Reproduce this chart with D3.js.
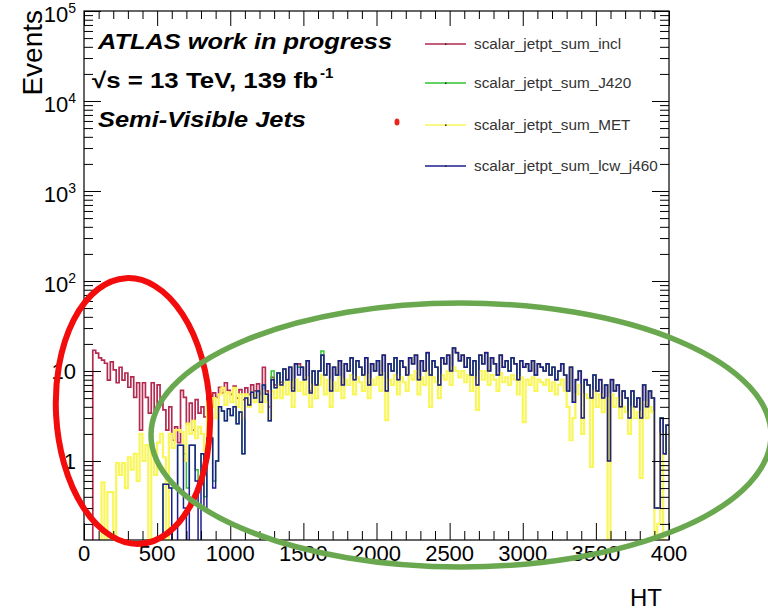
<!DOCTYPE html>
<html>
<head>
<meta charset="utf-8">
<script src="https://cdn.jsdelivr.net/npm/d3@7"></script>
<style>
  body { margin: 0; background: #fff; }
  svg { display: block; }
  text { font-family: "Liberation Sans", Arial, Helvetica, sans-serif; }
</style>
</head>
<body>
<svg id="chart" width="768" height="611"></svg>
<script>
// ---- Histogram binning: HT from 0 to 4000 GeV, 20 GeV bins (200 bins) ----
const binWidth = 20;
const htMin = 0, htMax = 4000;

// ---- Series (events per bin) ----
const inclValues = [
  0,0,0,17,15.8,14,13.2,12.2,7.9,12.6,
  10.3,7.4,11,7.9,9.5,6.6,8.6,5.1,7.4,2.2,
  7.4,5.1,3.4,7.4,3.4,7,4.8,3.7,2.2,4,
  1.7,2.4,1.6,6.1,5.1,2.6,4.4,2.2,4.8,3.4,
  4,3.1,5.1,4,5.7,5.1,6.6,5.7,7.4,6.1,
  5.5,6.8,5.0,6.2,4.8,6.5,5.5,7.0,6.0,7.2,
  5.5,11,6.0,4.0,8.5,7.0,9.5,7.5,10.5,8.0,
  11,6.5,12,12,11,8,13,6.0,10,7,
  10,15,9,12,6,11,9,13,7,12,
  10,14,8,13,11,9,14,7,12,10,
  13,9,15,6,12,10,14,8,13,11,
  9,14,12,15,8,13,10,16,9,13,
  11,7,14,12,15,10,18,16,13,15,
  11,14,9,13,7,15,12,16,10,14,
  12,9,15,11,13,10,14,12,8,13,
  11,12,10,13,9,12,11,10,12,9,
  11,8,10,12,9,6,11,4.5,8,10,
  3,8,7,5,9,6,8,5,7,1.0,
  8,6,7,4,6,5,3,6,4,5,
  3,7,4,6,5,0.3,0.3,3,1.2,2.5
];

const j420Values = [
  0,0,0,0,0,0,0,0,0,0,
  0,0,0,0,0,0,0,0,0,0,
  0,0,0,0,0,0,0,0.55,0.55,0.5,
  0.5,0.5,1.5,1.5,1.2,0.5,1.5,1.5,0.8,0.5,
  1.2,0.4,1.8,1.8,0.6,1.0,4.0,3.6,2.8,3.8,
  3.2,4.0,2.6,3.5,1.2,5.0,4.2,5.8,5.0,6.0,
  4.5,7.0,5.5,2.8,10,6.5,9.5,7.0,10.5,8.0,
  11,6.0,12,11,11,8,13,5.7,10,7,
  10,16.7,9,12,6,11,9,13,7,12,
  10,14,8,13,11,9,14,7,12,10,
  13,9,15,6,12,10,14,8,13,11,
  9,14,12,15,8,13,10,16,9,13,
  11,7,14,12,15,10,18,16,13,15,
  11,14,9,13,7,15,12,16,10,14,
  12,9,15,11,13,10,14,12,8,13,
  11,12,10,13,9,12,11,10,12,9,
  11,8,10,12,9,6,11,4.5,8,10,
  3,8,7,5,9,6,8,5,7,1.0,
  8,6,7,4,6,5,3,6,4,5,
  3,7,4,6,5,0.3,0.3,3,1.2,2.5
];

const metValues = [
  0,0,0,0,0,0,0.58,0,0.45,0.45,
  0,0.95,0.7,0.95,0.5,1.1,0.8,1.2,0.6,2.0,
  1.0,1.5,0,1.3,0.7,1.6,2.0,1.1,0,2.0,
  1.4,2.2,2.2,2.1,1.0,2.6,2.0,2.8,1.8,2.4,
  2.0,1.3,4.6,4.0,5.0,3.0,5.5,6.5,4.2,5.8,
  4.5,6.5,4.0,5.5,3.0,5.5,4.0,5.5,4.5,5.5,
  3.5,6.0,4.5,3.0,6.0,5.0,7.0,5.0,7.5,5.5,
  7.5,4.0,8.0,6.0,7.5,5.5,8.5,4.0,7.0,5.0,
  7.0,9.0,5.5,8.0,4.0,7.5,6.0,8.5,5.0,8.0,
  7.0,9.0,5.5,8.5,7.5,6.0,9.0,5.0,8.0,7.0,
  8.5,6.0,9.5,2.85,8.0,7.0,9.0,5.5,8.5,7.5,
  6.0,9.0,8.0,10,5.5,8.5,7.0,10,4.0,8.5,
  7.5,5.0,9.0,8.0,10,7.0,11,10,8.5,10,
  7.5,9.0,6.0,8.5,3.7,10,8.0,10,7.0,9.0,
  8.0,6.0,9.5,7.5,8.5,7.0,9.0,8.0,5.5,8.5,
  2.7,8.0,7.0,8.5,6.0,8.0,7.5,7.0,8.0,6.0,
  7.5,5.5,7.0,8.0,6.0,4.0,1.7,3.0,5.5,7.0,
  2.0,5.5,5.0,0.86,6.0,4.0,5.5,3.5,5.0,0,
  5.5,4.0,5.0,3.0,4.0,3.5,2.0,4.0,3.0,3.5,
  0.65,4.5,3.0,4.0,3.5,0,0.2,2.0,0,0
];

const lcwValues = [
  0,0,0,0,0,0,0,0,0,0,
  0,0,0,0,0,0,0,0,0,0,
  0,0,0,0,0,0,0,0.55,0.55,0.5,
  0,0,1.5,1.5,0.3,0,1.5,1.5,0.6,0,
  1.2,0.3,1.8,1.8,0.5,1.0,4.0,3.6,2.8,3.8,
  3.2,4.0,2.6,3.5,1.2,5.0,4.2,5.8,5.0,6.0,
  4.5,7.0,5.5,2.8,8.0,6.5,9.5,7.0,10.5,8.0,
  11,6.0,12,9,11,8,13,5.7,10,7,
  10,15,9,12,6,11,9,13,7,12,
  10,14,8,13,11,9,14,7,12,10,
  13,9,15,6,12,10,14,8,13,11,
  9,14,12,15,8,13,10,16,9,13,
  11,7,14,12,15,10,18,16,13,15,
  11,14,9,13,7,15,12,16,10,14,
  12,9,15,11,13,10,14,12,8,13,
  11,12,10,13,9,12,11,10,12,9,
  11,8,10,12,9,6,11,4.5,8,10,
  3,8,7,5,9,6,8,5,7,1.0,
  8,6,7,4,6,5,3,6,4,5,
  3,7,4,6,5,0.3,0.3,3,1.2,2.5
];

const seriesNames  = ["scalar_jetpt_sum_incl", "scalar_jetpt_sum_J420", "scalar_jetpt_sum_MET", "scalar_jetpt_sum_lcw_j460"];
const seriesColors = ["#b3294f", "#2fc42f", "#f9f65a", "#1e1e90"];
const seriesWidths = [1.7, 1.5, 2.2, 1.5];
const seriesData   = [inclValues, j420Values, metValues, lcwValues];

// ---- Axis ticks ----
const xMajorTicks  = [0, 500, 1000, 1500, 2000, 2500, 3000, 3500, 4000];
const xTickLabels  = ["0", "500", "1000", "1500", "2000", "2500", "3000", "3500", "400"];
const yMajorTicks  = [1, 10, 100, 1000, 10000, 100000];
const yTickBase    = ["1", "10", "10", "10", "10", "10"];
const yTickExp     = ["", "", "2", "3", "4", "5"];

// ---- Layout ----
const svg = d3.select("#chart");
const frame = { left: 84, right: 669, top: 11, bottom: 540 };
const yMin = 0.1325, yMax = 1e5;

const x = d3.scaleLinear().domain([htMin, htMax]).range([frame.left, frame.right]);
const y = d3.scaleLog().domain([yMin, yMax]).range([frame.bottom, frame.top]);

svg.append("rect").attr("width", 768).attr("height", 611).attr("fill", "#fff");

// clip for histograms
svg.append("defs").append("clipPath").attr("id", "plotClip")
  .append("rect")
  .attr("x", frame.left).attr("y", frame.top)
  .attr("width", frame.right - frame.left).attr("height", frame.bottom - frame.top);

// ---- Histograms as step outlines ----
const edges = d3.range(htMin, htMax + binWidth, binWidth);
const emptyLevel = 0.1; // empty bins fall below the frame on the log axis
const stepLine = d3.line()
  .x(d => x(d[0]))
  .y(d => y(Math.max(d[1], emptyLevel)))
  .curve(d3.curveStepAfter);

const histG = svg.append("g").attr("clip-path", "url(#plotClip)");
seriesData.forEach((vals, k) => {
  const pts = vals.map((v, i) => [edges[i], v]);
  pts.push([edges[vals.length], vals[vals.length - 1]]);
  histG.append("path")
    .attr("d", stepLine(pts))
    .attr("fill", "none")
    .attr("stroke", seriesColors[k])
    .attr("stroke-width", seriesWidths[k])
    .attr("stroke-linejoin", "miter");
});

// ---- Axes ----
const xMinorTicks = d3.range(htMin, htMax + 1, 100).filter(v => v % 500 !== 0);
const yMinorTicks = [];
for (let e = -1; e <= 4; e++) {
  for (let m = 2; m <= 9; m++) {
    const v = m * Math.pow(10, e);
    if (v >= yMin && v <= yMax) yMinorTicks.push(v);
  }
}

function styleAxis(g) {
  g.select(".domain").remove();
  g.selectAll("line").attr("stroke", "#000").attr("stroke-width", 1);
}

// bottom ticks (inward)
svg.append("g").attr("transform", `translate(0,${frame.bottom})`)
  .call(d3.axisTop(x).tickValues(xMajorTicks).tickSize(17).tickFormat(""))
  .call(styleAxis);
svg.append("g").attr("transform", `translate(0,${frame.bottom})`)
  .call(d3.axisTop(x).tickValues(xMinorTicks).tickSize(9).tickFormat(""))
  .call(styleAxis);
// top ticks (inward)
svg.append("g").attr("transform", `translate(0,${frame.top})`)
  .call(d3.axisBottom(x).tickValues(xMajorTicks).tickSize(15).tickFormat(""))
  .call(styleAxis);
svg.append("g").attr("transform", `translate(0,${frame.top})`)
  .call(d3.axisBottom(x).tickValues(xMinorTicks).tickSize(8).tickFormat(""))
  .call(styleAxis);
// left ticks (inward)
svg.append("g").attr("transform", `translate(${frame.left},0)`)
  .call(d3.axisRight(y).tickValues(yMajorTicks).tickSize(17).tickFormat(""))
  .call(styleAxis);
svg.append("g").attr("transform", `translate(${frame.left},0)`)
  .call(d3.axisRight(y).tickValues(yMinorTicks).tickSize(9).tickFormat(""))
  .call(styleAxis);
// right ticks (inward)
svg.append("g").attr("transform", `translate(${frame.right},0)`)
  .call(d3.axisLeft(y).tickValues(yMajorTicks).tickSize(17).tickFormat(""))
  .call(styleAxis);
svg.append("g").attr("transform", `translate(${frame.right},0)`)
  .call(d3.axisLeft(y).tickValues(yMinorTicks).tickSize(9).tickFormat(""))
  .call(styleAxis);

// frame
svg.append("rect")
  .attr("x", frame.left).attr("y", frame.top)
  .attr("width", frame.right - frame.left).attr("height", frame.bottom - frame.top)
  .attr("fill", "none").attr("stroke", "#000").attr("stroke-width", 1.2);

// x tick labels
svg.append("g").selectAll("text").data(xMajorTicks).join("text")
  .attr("x", d => x(d)).attr("y", 561)
  .attr("text-anchor", "middle")
  .attr("font-size", 22)
  .text((d, i) => xTickLabels[i]);

// y tick labels (powers of ten with superscripts)
const yLab = svg.append("g").selectAll("text").data(yMajorTicks).join("text")
  .attr("font-size", 22)
  .attr("text-anchor", "end");
yLab.each(function (d, i) {
  const t = d3.select(this);
  if (yTickExp[i]) {
    t.attr("x", 76).attr("y", y(d) + 11);
    t.append("tspan").text(yTickBase[i]);
    t.append("tspan").attr("font-size", 14).attr("dy", -9).text(yTickExp[i]);
  } else {
    t.attr("x", 76).attr("y", y(d) + 8).text(yTickBase[i]);
  }
});

// axis titles
svg.append("text")
  .attr("transform", "translate(42,10) rotate(-90)")
  .attr("text-anchor", "end")
  .attr("font-size", 28)
  .text("Events");
svg.append("text")
  .attr("x", 662).attr("y", 606)
  .attr("text-anchor", "end")
  .attr("font-size", 24)
  .text("HT");

// ---- Labels inside the frame ----
svg.append("text")
  .attr("x", 98).attr("y", 49)
  .attr("font-size", 22).attr("font-weight", "bold").attr("font-style", "italic")
  .attr("textLength", 294).attr("lengthAdjust", "spacingAndGlyphs")
  .text("ATLAS work in progress");
svg.append("text")
  .attr("x", 92).attr("y", 88)
  .attr("font-size", 22).attr("font-weight", "bold")
  .attr("textLength", 226).attr("lengthAdjust", "spacingAndGlyphs")
  .text("√s = 13 TeV, 139 fb");
svg.append("text")
  .attr("x", 320).attr("y", 78)
  .attr("font-size", 15).attr("font-weight", "bold")
  .text("-1");
svg.append("text")
  .attr("x", 98).attr("y", 127)
  .attr("font-size", 22).attr("font-weight", "bold").attr("font-style", "italic")
  .attr("textLength", 208).attr("lengthAdjust", "spacingAndGlyphs")
  .text("Semi-Visible Jets");

// ---- Legend ----
const legendRows = [44, 83, 125, 166];
const legend = svg.append("g");
seriesNames.forEach((name, k) => {
  const ly = legendRows[k];
  legend.append("line")
    .attr("x1", 425).attr("x2", 466).attr("y1", ly).attr("y2", ly)
    .attr("stroke", seriesColors[k]).attr("stroke-width", 1.3);
  legend.append("rect")
    .attr("x", 445).attr("y", ly - 0.5).attr("width", 1.5).attr("height", 1.5)
    .attr("fill", "#222");
  legend.append("text")
    .attr("x", 474).attr("y", ly + 5)
    .attr("font-size", 15.3).attr("fill", "#333")
    .text(name);
});

// small red marker next to the legend
svg.append("ellipse")
  .attr("cx", 397).attr("cy", 122).attr("rx", 2.5).attr("ry", 3.5)
  .attr("fill", "#e8261c");

// ---- Highlight ellipses ----
svg.append("ellipse")
  .attr("cx", 133).attr("cy", 411).attr("rx", 77).attr("ry", 133)
  .attr("transform", "rotate(-3,133,411)")
  .attr("fill", "none").attr("stroke", "#f20c0c").attr("stroke-width", 6);
svg.append("ellipse")
  .attr("cx", 461).attr("cy", 435).attr("rx", 310).attr("ry", 132)
  .attr("fill", "none").attr("stroke", "#6aa84f").attr("stroke-width", 5.5);
</script>
</body>
</html>
